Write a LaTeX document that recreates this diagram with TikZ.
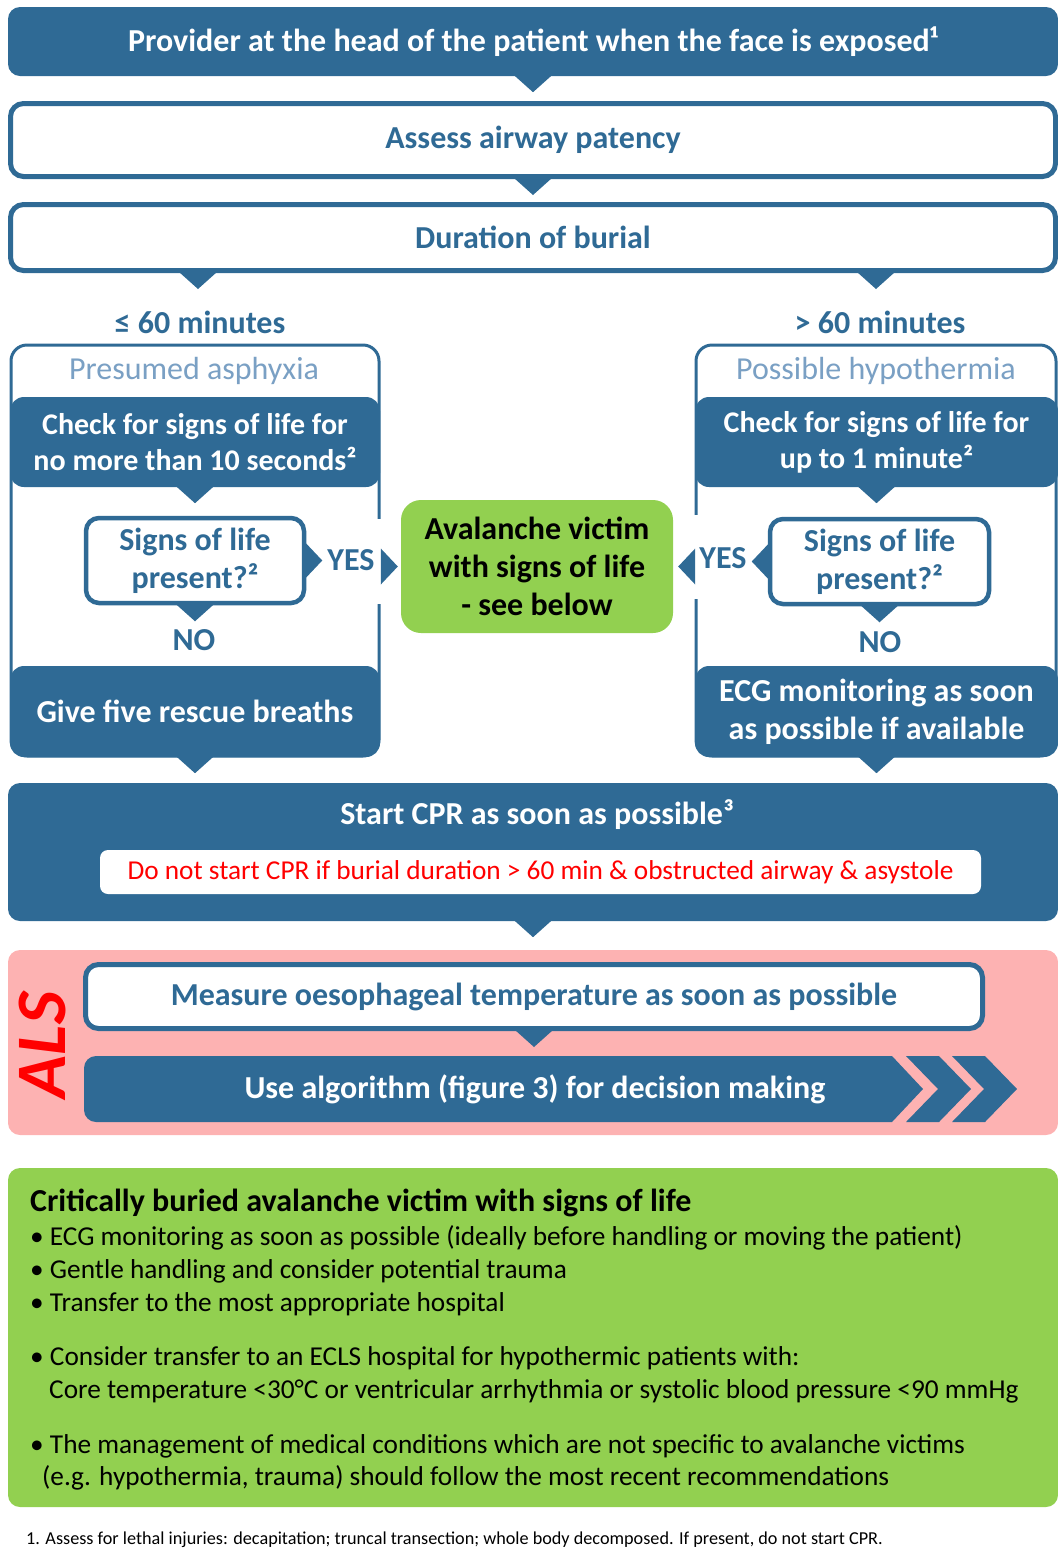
\documentclass[tikz,border=0pt]{standalone}
\usepackage{fontspec}
\setmainfont{Carlito}
\usetikzlibrary{calc}
\definecolor{alublue}{RGB}{47,106,149}
\definecolor{alulight}{RGB}{122,160,196}
\definecolor{alugreen}{RGB}{146,208,80}
\definecolor{alupink}{RGB}{253,178,178}
\definecolor{alured}{RGB}{255,0,0}
\newcommand{\tipdown}[1]{\fill[alublue] ($(#1)+(-19,-1)$) -- ($(#1)+(19,-1)$) -- ($(#1)+(0,16)$) -- cycle;}
\newcommand{\tipright}[1]{\fill[alublue] ($(#1)+(-1,-18)$) -- ($(#1)+(16,0)$) -- ($(#1)+(-1,18)$) -- cycle;}
\newcommand{\tipleft}[1]{\fill[alublue] ($(#1)+(1,-18)$) -- ($(#1)+(-16,0)$) -- ($(#1)+(1,18)$) -- cycle;}

\begin{document}
\begin{tikzpicture}[x=1pt,y=-1pt,
  darkbox/.style={fill=alublue,rounded corners=12pt,text=white,font=\bfseries\fontsize{32}{38}\selectfont,align=center,inner sep=0pt},
  openbox/.style={draw=alublue,line width=5pt,fill=white,rounded corners=13pt,text=alublue,font=\bfseries\fontsize{32}{38}\selectfont,align=center,inner sep=0pt},
  panel/.style={draw=alublue,line width=3pt,fill=white,rounded corners=16pt,inner sep=0pt},
  bluetext/.style={text=alublue,font=\bfseries\fontsize{32}{38}\selectfont},
  paletext/.style={text=alulight,font=\fontsize{32}{38}\selectfont},
  listtext/.style={anchor=west,inner sep=0pt,font=\fontsize{27.3}{32}\selectfont}]
  \useasboundingbox (0,0) rectangle (1058,1551);

  \node[darkbox,minimum width=1050,minimum height=69] (head) at (533,41.5) {Provider at the head of the patient when the face is exposed¹};
  \node[openbox,minimum width=1045,minimum height=73] (airway) at (533,140) {Assess airway patency};
  \node[openbox,minimum width=1045,minimum height=66] (burial) at (533,237.5) {Duration of burial};
  \tipdown{head.south}
  \tipdown{airway.south}

  \node[bluetext] (le60) at (200,322) {≤ 60 minutes};
  \node[bluetext] (gt60) at (880,322) {> 60 minutes};
  \coordinate (burl) at (burial.south -| 198,0);
  \coordinate (burr) at (burial.south -| 876,0);
  \tipdown{burl}
  \tipdown{burr}

  \node[panel,minimum width=368,minimum height=411] (lpanel) at (195,550.5) {};
  \node[panel,minimum width=360,minimum height=411] (rpanel) at (876,550.5) {};
  \fill[white] (376,519) rectangle (384,604);
  \fill[white] (690,515) rectangle (699,599);
  \node[paletext] (asphyx) at (194,371) {Presumed asphyxia};
  \node[paletext] (hypo) at (876,371) {Possible hypothermia};

  \node[darkbox,minimum width=370,minimum height=90,rounded corners=14pt,font=\bfseries\fontsize{30}{36}\selectfont] (lcheck) at (195,442) {Check for signs of life for\\no more than 10 seconds²};
  \node[darkbox,minimum width=363,minimum height=90,rounded corners=14pt,font=\bfseries\fontsize{30}{36}\selectfont] (rcheck) at (876.5,442) {Check for signs of life for\\up to 1 minute²};
  \tipdown{lcheck.south}
  \tipdown{rcheck.south}

  \node[openbox,line width=4.5pt,minimum width=218,minimum height=85] (lsigns) at (195,560.5) {Signs of life\\present?²};
  \node[openbox,line width=4.5pt,minimum width=219,minimum height=85] (rsigns) at (879.5,561.5) {Signs of life\\present?²};
  \tipright{lsigns.east}
  \tipleft{rsigns.west}
  \tipdown{lsigns.south}
  \tipdown{rsigns.south}
  \node[bluetext] (lyes) at (351,560) {YES};
  \node[bluetext] (ryes) at (723,558) {YES};
  \node[bluetext] (lno) at (194,640) {NO};
  \node[bluetext] (rno) at (880,642) {NO};

  \node[fill=alugreen,rounded corners=20pt,minimum width=272,minimum height=133,inner sep=0pt,align=center,font=\bfseries\fontsize{32}{38}\selectfont] (alive) at (537,566.5) {Avalanche victim\\with signs of life\\- see below};
  \coordinate (lin) at ($(alive.west)+(-19,0)$);
  \coordinate (rin) at ($(alive.east)+(21,0)$);
  \tipright{lin}
  \tipleft{rin}

  \node[darkbox,minimum width=370,minimum height=91,rounded corners=14pt] (lgive) at (195,711.5) {Give five rescue breaths};
  \node[darkbox,minimum width=363,minimum height=91,rounded corners=14pt] (recg) at (876.5,711.5) {ECG monitoring as soon\\as possible if available};
  \tipdown{lgive.south}
  \tipdown{recg.south}

  \node[darkbox,minimum width=1050,minimum height=138] (cpr) at (533,852) {};
  \node[text=white,font=\bfseries\fontsize{32}{38}\selectfont] (cprtitle) at (537,815) {Start CPR as soon as possible³};
  \node[fill=white,rounded corners=8pt,minimum width=881,minimum height=44,inner sep=0pt,text=alured,font=\fontsize{27.3}{32}\selectfont] (nocpr) at (540.5,872) {Do not start CPR if burial duration > 60 min \& obstructed airway \& asystole};
  \tipdown{cpr.south}

  \node[fill=alupink,rounded corners=12pt,minimum width=1050,minimum height=185,inner sep=0pt] (als) at (533,1042.5) {};
  \node[rotate=90,text=alured,font=\bfseries\itshape\fontsize{71}{71}\selectfont] (alslabel) at (42,1045) {ALS};
  \node[openbox,minimum width=897,minimum height=64] (oeso) at (534,996.5) {Measure oesophageal temperature as soon as possible};
  \fill[alublue,rounded corners=12pt] (500,1056) -- (84,1056) -- (84,1122) -- (500,1122) [sharp corners] -- (892,1122) -- (923,1089) -- (892,1056) -- cycle;
  \foreach \dx in {0,46}
    \fill[alublue] (906+\dx,1056) -- (939+\dx,1056) -- (971+\dx,1089) -- (939+\dx,1122) -- (906+\dx,1122) -- (938+\dx,1089) -- cycle;
  \node[text=white,font=\bfseries\fontsize{32}{38}\selectfont] (algo) at (535,1089) {Use algorithm (figure 3) for decision making};
  \tipdown{oeso.south}

  \node[fill=alugreen,rounded corners=12pt,minimum width=1050,minimum height=339,inner sep=0pt] (summary) at (533,1337.5) {};
  \node[listtext,font=\bfseries\fontsize{32}{38}\selectfont] (sumtitle) at (30,1203) {Critically buried avalanche victim with signs of life};
  \node[listtext] (ecg) at (30,1238) {• ECG monitoring as soon as possible (ideally before handling or moving the patient)};
  \node[listtext] (gentle) at (30,1271) {• Gentle handling and consider potential trauma};
  \node[listtext] (transfer) at (30,1304) {• Transfer to the most appropriate hospital};
  \node[listtext] (ecls) at (30,1358) {• Consider transfer to an ECLS hospital for hypothermic patients with:};
  \node[listtext] (core) at (49,1391) {Core temperature <30°C or ventricular arrhythmia or systolic blood pressure <90 mmHg};
  \node[listtext] (manage) at (30,1446) {• The management of medical conditions which are not specific to avalanche victims};
  \node[listtext] (recent) at (42,1478) {(e.g. hypothermia, trauma) should follow the most recent recommendations};

  \node[listtext,font=\fontsize{18.2}{21}\selectfont] (note) at (26,1540) {1. Assess for lethal injuries: decapitation; truncal transection; whole body decomposed. If present, do not start CPR.};
\end{tikzpicture}
\end{document}
